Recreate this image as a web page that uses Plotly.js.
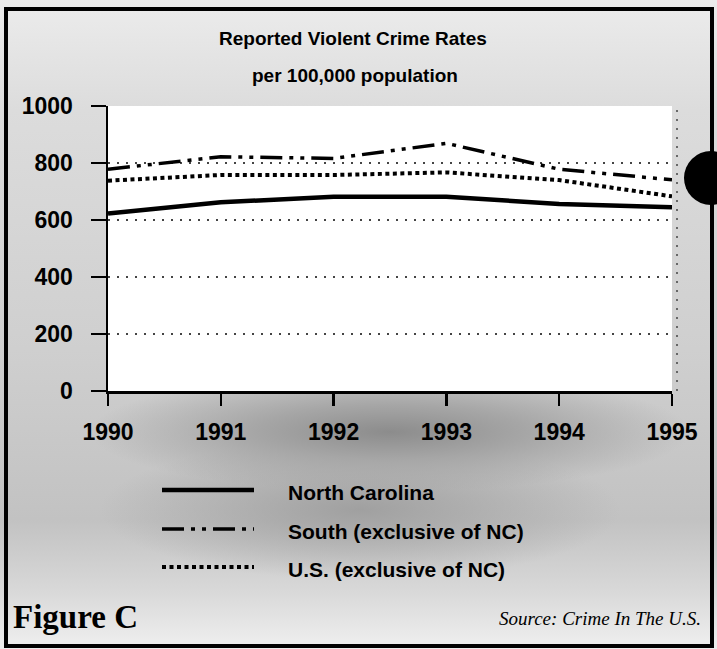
<!DOCTYPE html>
<html><head><meta charset="utf-8">
<script src="https://cdn.plot.ly/plotly-3.0.1.min.js"></script>
<style>
html,body{margin:0;padding:0;background:#fff;}
#wrap{position:relative;width:717px;height:649px;overflow:hidden;
background:
 radial-gradient(ellipse 300px 60px at 390px 432px, #8c8c8c 0%, #a6a6a6 45%, rgba(190,190,190,0) 100%),
 radial-gradient(ellipse 260px 70px at 360px 510px, #a0a0a0 0%, rgba(190,190,190,0) 100%),
 linear-gradient(#ececec 0px, #dcdcdc 110px, #cfcfcf 350px, #c2c2c2 520px, #d8d8d8 590px, #ececec 640px);}
#frame{position:absolute;left:4px;top:7px;width:702px;height:633px;border:4px solid #000;pointer-events:none;z-index:5;}
#hole{position:absolute;left:684px;top:151px;width:54px;height:54px;border-radius:50%;background:#000;z-index:6;}
#chart{position:absolute;left:0;top:0;}
</style></head>
<body>
<div id="wrap"><div id="chart"></div><div id="frame"></div><div id="hole"></div></div>
<script>
const years = [1990, 1991, 1992, 1993, 1994, 1995];
const yearLabels = ["1990", "1991", "1992", "1993", "1994", "1995"];
const seriesNames = ["North Carolina", "South (exclusive of NC)", "U.S. (exclusive of NC)"];
const northCarolina = [623, 662, 682, 682, 656, 645];
const southExNC = [778, 822, 816, 869, 778, 741];
const usExNC = [738, 758, 758, 767, 740, 683];
const yTicks = [0, 200, 400, 600, 800, 1000];
const yTickLabels = ["0", "200", "400", "600", "800", "1000"];

const W = 717, H = 649, L = 108, R = 672, T = 106, B = 391;
const px = x => (x - L) / (R - L);
const py = y => (B - y) / (B - T);

const styles = [
  {color: '#000', width: 4.5, dash: 'solid'},
  {color: '#000', width: 3.5, dash: '22px,7px,4px,7px,4px,7px'},
  {color: '#000', width: 4, dash: '4px,3.5px'}
];
const values = [northCarolina, southExNC, usExNC];

const traces = values.map((v, i) => ({
  x: years, y: v, type: 'scatter', mode: 'lines', name: seriesNames[i],
  line: styles[i], hoverinfo: 'skip'
}));

const sans = 'Liberation Sans, Arial, sans-serif';
const serif = 'Liberation Serif, Times New Roman, serif';

const legendY = [490, 529, 567];
const shapes = [
  {type: 'line', xref: 'paper', yref: 'paper', x0: px(677), x1: px(677), y0: 0, y1: 1,
   line: {color: '#444', width: 1.5, dash: '2px,7px'}}
];
legendY.forEach((y, i) => {
  shapes.push({type: 'line', xref: 'paper', yref: 'paper', x0: px(162), x1: px(254), y0: py(y), y1: py(y), line: styles[i]});
});

const annotations = [
  {text: 'Reported Violent Crime Rates', x: px(217), y: py(39), xanchor: 'left', yanchor: 'middle'},
  {text: 'per 100,000 population', x: px(250), y: py(75), xanchor: 'left', yanchor: 'middle'}
].map(a => Object.assign(a, {xref: 'paper', yref: 'paper', showarrow: false,
  font: {family: sans, size: 19, color: '#000', weight: 'bold'}}));

seriesNames.forEach((n, i) => annotations.push({
  text: n, xref: 'paper', yref: 'paper', x: px(286), y: py(legendY[i] + 2), xanchor: 'left', yanchor: 'middle',
  showarrow: false, font: {family: sans, size: 21, color: '#000', weight: 'bold'}
}));
annotations.push({text: 'Figure C', xref: 'paper', yref: 'paper', x: px(11), y: py(617), xanchor: 'left', yanchor: 'middle',
  showarrow: false, font: {family: serif, size: 33, color: '#000', weight: 'bold'}});
annotations.push({text: 'Source: Crime In The U.S.', xref: 'paper', yref: 'paper', x: px(703), y: py(618), xanchor: 'right', yanchor: 'middle',
  showarrow: false, font: {family: serif, size: 19, color: '#000', style: 'italic'}});

const layout = {
  width: W, height: H,
  margin: {l: L, r: W - R, t: T, b: H - B, pad: 0},
  paper_bgcolor: 'rgba(0,0,0,0)', plot_bgcolor: '#fff',
  showlegend: false,
  xaxis: {range: [1990, 1995], tickvals: years, ticktext: yearLabels, showline: true, linecolor: '#000', linewidth: 2.5,
    ticks: 'outside', ticklen: 12, tickwidth: 2.5, tickcolor: '#000', showgrid: false, zeroline: false,
    ticklabelstandoff: 7, tickfont: {family: sans, size: 23, color: '#000', weight: 'bold'}, fixedrange: true},
  yaxis: {range: [0, 1000], tickvals: yTicks, ticktext: yTickLabels, showline: true, linecolor: '#000', linewidth: 2.5,
    ticks: 'outside', ticklen: 15, tickwidth: 2.5, tickcolor: '#000', showgrid: true, gridcolor: '#444', gridwidth: 1.5,
    griddash: '2px,7px', zeroline: false, ticklabelstandoff: 13,
    tickfont: {family: sans, size: 23, color: '#000', weight: 'bold'}, fixedrange: true},
  shapes: shapes, annotations: annotations
};
Plotly.newPlot('chart', traces, layout, {displayModeBar: false, staticPlot: true});
</script>
</body></html>
